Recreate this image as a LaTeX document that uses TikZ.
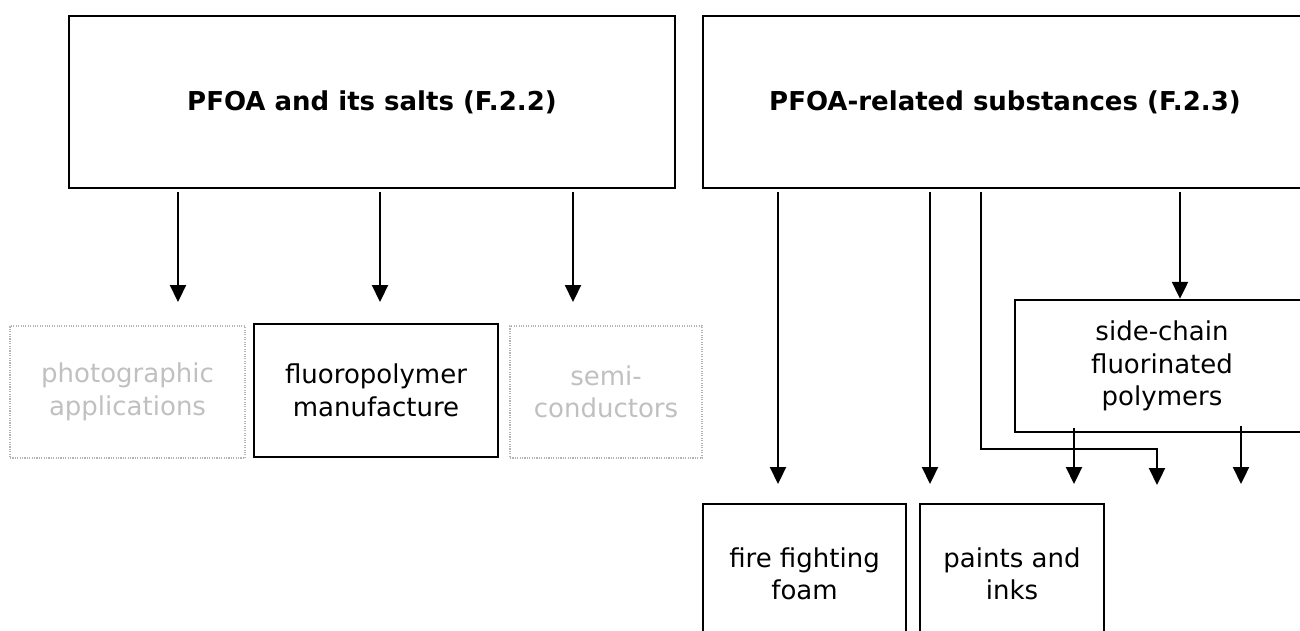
\documentclass[tikz,border=0pt]{standalone}
\usepackage{fontspec}
\setmainfont{DejaVu Sans}
\usetikzlibrary{arrows.meta,calc}
\definecolor{palegray}{HTML}{C0C0C0}
\definecolor{dotgray}{HTML}{B4B4B4}
\begin{document}
\begin{tikzpicture}[x=1pt,y=-1pt,
  box/.style={draw=black,line width=2.4pt,rectangle,inner sep=0pt,align=center,
    font=\fontsize{26}{32.5}\selectfont},
  ghost/.style={draw=dotgray,line width=1.1pt,dash pattern=on 1.1pt off 1.3pt,rectangle,
    inner sep=0pt,align=center,text=palegray,font=\fontsize{26}{32.5}\selectfont},
  arr/.style={line width=2.2pt,-{Triangle[width=16pt,length=17pt]}},
  bold/.style={font=\bfseries\fontsize{26}{32.5}\selectfont},
]
\useasboundingbox (0,0) rectangle (1300,630);
% top boxes
\node[box,bold,minimum width=606pt,minimum height=172pt] (b1) at (372,102) {\raisebox{-3pt}{PFOA and its salts (F.2.2)}};
\node[box,bold,minimum width=604pt,minimum height=172pt] (b2) at (1005,102) {\raisebox{-3pt}{PFOA-related substances (F.2.3)}};
% left row
\node[ghost,minimum width=235pt,minimum height=132pt] (photo) at (127.5,392) {photographic\\applications};
\node[box,minimum width=244pt,minimum height=133pt] (fluoro) at (376,390.5) {\raisebox{-2pt}{fluoropolymer}\\\raisebox{-2pt}{manufacture}};
\node[ghost,minimum width=192pt,minimum height=132pt] (semi) at (606,392) {semi-\\conductors};
% right
\node[box,minimum width=294pt,minimum height=132pt] (side) at (1162,366) {\raisebox{-3pt}{side-chain}\\\raisebox{-3pt}{fluorinated}\\\raisebox{-3pt}{polymers}};
\node[box,minimum width=203pt,minimum height=140pt] (fire) at (804.5,574) {fire fighting\\foam};
\node[box,minimum width=184pt,minimum height=140pt] (paints) at (1012,574) {paints and\\inks};
% free ends
\coordinate (t1) at (178,302);
\coordinate (t2) at (380,302);
\coordinate (t3) at (573,302);
\coordinate (u1) at (778,484);
\coordinate (u2) at (930,484);
\coordinate (u3) at (1157,485);
\coordinate (bend) at (981,449);
\coordinate (v1) at (1074,484);
\coordinate (v2) at (1241,484);
% connectors
\draw[arr,shorten <=3pt] (b1.south -| t1) -- (t1);
\draw[arr,shorten <=3pt] (b1.south -| t2) -- (t2);
\draw[arr,shorten <=3pt] (b1.south -| t3) -- (t3);
\draw[arr,shorten <=3pt] (b2.south -| u1) -- (u1);
\draw[arr,shorten <=3pt] (b2.south -| u2) -- (u2);
\draw[arr,shorten <=3pt] (b2.south -| bend) -- (bend) -| (u3);
\draw[arr,shorten <=3pt] (b2.south -| side.north) ++(18,0) -- ($(side.north)+(18,0)$);
\draw[arr] ($(side.south -| v1)+(0,-5)$) -- (v1);
\draw[arr] ($(side.south -| v2)+(0,-7)$) -- (v2);
\end{tikzpicture}
\end{document}
